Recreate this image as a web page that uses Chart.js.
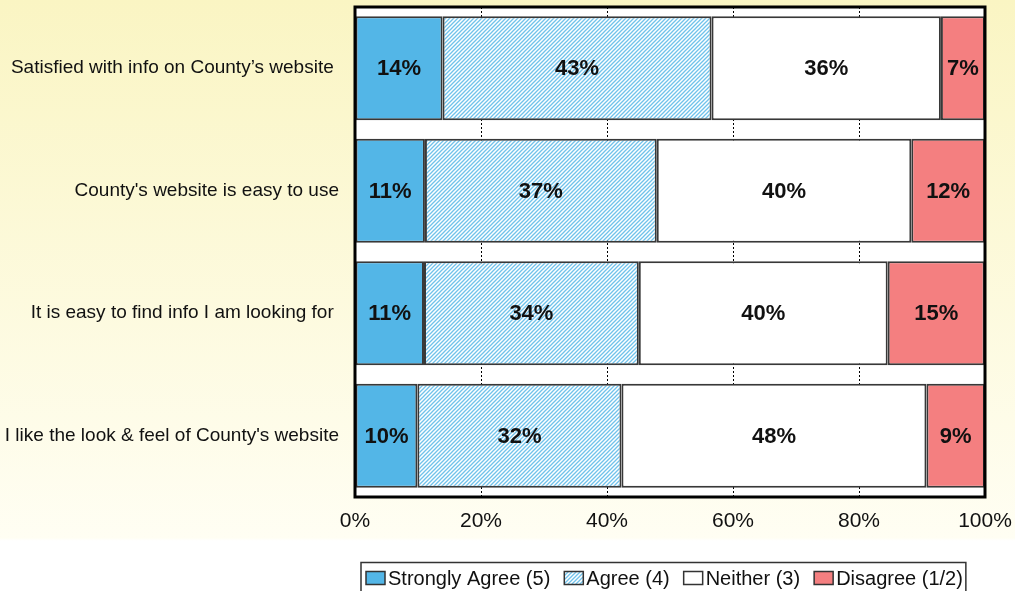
<!DOCTYPE html>
<html>
<head>
<meta charset="utf-8">
<script src="https://cdn.jsdelivr.net/npm/chart.js@4/dist/chart.umd.min.js"></script>
<style>
  html, body { margin: 0; padding: 0; background: #ffffff; }
  #wrap { width: 1015px; height: 591px; }
</style>
</head>
<body>
<div id="wrap"><canvas id="c" width="1015" height="591"></canvas></div>
<script>
// ---- data ----
const categories = [
  "Satisfied with info on County\u2019s website ",
  "County's website is easy to use",
  "It is easy to find info I am looking for ",
  "I like the look & feel of County's website"
];
const seriesNames = ["Strongly Agree (5)", "Agree (4)", "Neither (3)", "Disagree (1/2)"];
const stronglyAgree = [13.9, 11.1, 10.95, 9.9];
const agree = [42.7, 36.8, 34.1, 32.4];
const neither = [36.4, 40.4, 39.5, 48.4];
const disagree = [7.0, 11.7, 15.4, 9.3];
const xTickValues = [0, 20, 40, 60, 80, 100];

// ---- styles ----
const FONT = "'Liberation Sans', Arial, Helvetica, sans-serif";
const canvas = document.getElementById('c');
const ctx0 = canvas.getContext('2d');

function makeHatch() {
  const t = document.createElement('canvas');
  t.width = 4; t.height = 4;
  const g = t.getContext('2d');
  g.fillStyle = '#ffffff';
  g.fillRect(0, 0, 4, 4);
  g.strokeStyle = '#70c2eb';
  g.lineWidth = 1.3;
  g.beginPath();
  g.moveTo(-1, 5); g.lineTo(5, -1);
  g.moveTo(-3, 3); g.lineTo(3, -3);
  g.moveTo(1, 7); g.lineTo(7, 1);
  g.stroke();
  return ctx0.createPattern(t, 'repeat');
}
const hatch = makeHatch();
const fills = ['#53b6e7', hatch, '#ffffff', '#f47f80'];
const seriesData = [stronglyAgree, agree, neither, disagree];

function zeroPad(scale) {
  scale.paddingTop = 0; scale.paddingBottom = 0;
  scale.paddingLeft = 0; scale.paddingRight = 0;
}

const bgPlugin = {
  id: 'bg',
  beforeDraw(chart) {
    const { ctx, width, height, chartArea } = chart;
    ctx.save();
    const g = ctx.createLinearGradient(0, 0, 0, height);
    g.addColorStop(0, '#faf5c3');
    g.addColorStop(0.91, '#fffef3');
    g.addColorStop(0.915, '#ffffff');
    g.addColorStop(1, '#ffffff');
    ctx.fillStyle = g;
    ctx.fillRect(0, 0, width, height);
    ctx.fillStyle = '#ffffff';
    ctx.fillRect(chartArea.left, chartArea.top, chartArea.right - chartArea.left, chartArea.bottom - chartArea.top);
    ctx.restore();
  }
};

const labelPlugin = {
  id: 'vals',
  afterDatasetsDraw(chart) {
    const { ctx, chartArea } = chart;
    ctx.save();
    ctx.font = "bold 22px " + FONT;
    ctx.fillStyle = '#111111';
    ctx.textAlign = 'center';
    ctx.textBaseline = 'middle';
    chart.data.datasets.forEach((ds, i) => {
      const meta = chart.getDatasetMeta(i);
      meta.data.forEach((bar, j) => {
        const v = ds.data[j];
        ctx.fillText(Math.round(v) + '%', (bar.x + bar.base) / 2, bar.y + 1);
      });
    });
    // frame
    ctx.strokeStyle = '#000000';
    ctx.lineWidth = 3;
    ctx.strokeRect(chartArea.left, chartArea.top, chartArea.right - chartArea.left, chartArea.bottom - chartArea.top);
    ctx.restore();
  }
};

const legendPlugin = {
  id: 'customLegend',
  afterDraw(chart) {
    const { ctx } = chart;
    ctx.save();
    ctx.font = "20px " + FONT;
    ctx.textBaseline = 'middle';
    ctx.textAlign = 'left';
    const startX = 366, cy = 578, sw = 19, sh = 13, gapIn = 3, gapOut = 14;
    let x = startX;
    chart.data.datasets.forEach((ds, i) => {
      ctx.fillStyle = ds.backgroundColor;
      ctx.fillRect(x, cy - sh / 2, sw, sh);
      ctx.strokeStyle = '#333333';
      ctx.lineWidth = 1.5;
      ctx.strokeRect(x, cy - sh / 2, sw, sh);
      x += sw + gapIn;
      ctx.fillStyle = '#111111';
      ctx.fillText(ds.label, x, cy + 1);
      x += ctx.measureText(ds.label).width + (i < chart.data.datasets.length - 1 ? gapOut : 3);
    });
    ctx.strokeStyle = '#333333';
    ctx.lineWidth = 1.5;
    ctx.strokeRect(startX - 5, 562.5, x - startX + 5, 40);
    ctx.restore();
  }
};

new Chart(canvas, {
  type: 'bar',
  data: {
    labels: categories,
    datasets: seriesNames.map((name, i) => ({
      label: name,
      data: seriesData[i],
      backgroundColor: fills[i],
      borderColor: '#383838',
      borderWidth: 2,
      borderSkipped: false,
      categoryPercentage: 0.85,
      barPercentage: 1.0
    }))
  },
  options: {
    indexAxis: 'y',
    responsive: false,
    animation: false,
    events: [],
    layout: { padding: { left: 0, right: 30, top: 7, bottom: 54 } },
    plugins: {
      legend: { display: false },
      tooltip: { enabled: false }
    },
    scales: {
      x: {
        stacked: true,
        min: 0,
        max: 100,
        afterBuildTicks(scale) { scale.ticks = xTickValues.map(v => ({ value: v })); },
        afterFit(scale) { scale.height = 40; zeroPad(scale); },
        grid: {
          color: (c) => (c.tick && (c.tick.value === 0 || c.tick.value === 100)) ? 'rgba(0,0,0,0)' : '#000000',
          lineWidth: 1,
          drawTicks: false
        },
        border: { display: false, dash: [2, 2] },
        ticks: {
          callback: (v) => v + '%',
          font: { family: FONT, size: 21 },
          color: '#111111',
          padding: 12,
          maxRotation: 0
        }
      },
      y: {
        stacked: true,
        afterFit(scale) { scale.width = 355; zeroPad(scale); },
        grid: { display: false, drawTicks: false },
        border: { display: false },
        ticks: {
          font: { family: FONT, size: 19 },
          color: '#111111',
          padding: 16
        }
      }
    }
  },
  plugins: [bgPlugin, labelPlugin, legendPlugin]
});
</script>
</body>
</html>
